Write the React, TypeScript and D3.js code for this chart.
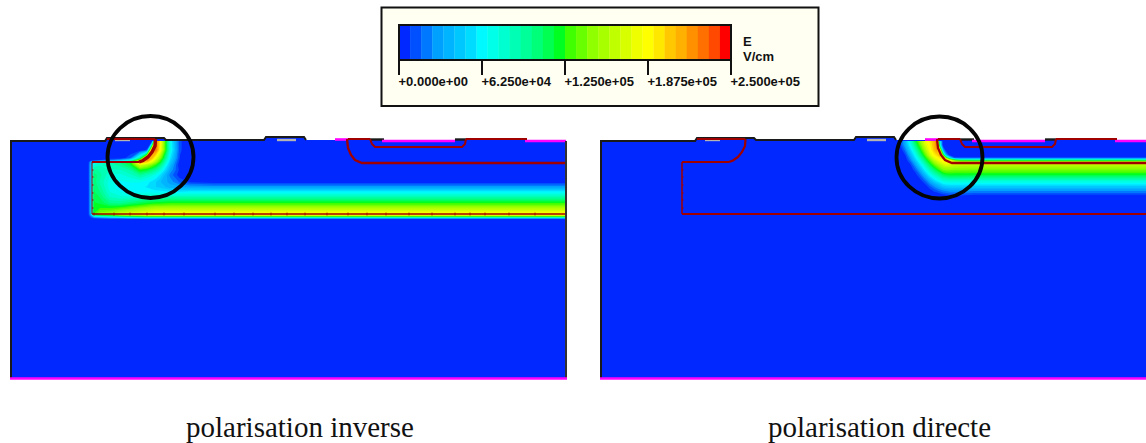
import React from "react";
import * as d3 from "d3";

const WIDTH = 1146;
const HEIGHT = 443;

// Legend: colour map of the field, in 30 steps from 0 to 2.5e5 V/cm
const legendColors = [
  "#0028ff", "#0050ff", "#0078ff", "#00a0ff", "#00b4ff", "#00c8ff", "#00dcff", "#00f8ff", "#00ffe8", "#00ffd0",
  "#00ffb4", "#00ff98", "#00ff78", "#00ff50", "#00ff20", "#40ff00", "#68ff00", "#90ff00", "#a8ff00", "#c0ff00",
  "#d8ff00", "#f0ff00", "#ffff00", "#ffe800", "#ffc800", "#ffb000", "#ff9000", "#ff7000", "#ff4800", "#ff0000",
];
const legendTicks = [0, 62500, 125000, 187500, 250000];
const legendLabels = ["+0.000e+00", "+6.250e+04", "+1.250e+05", "+1.875e+05", "+2.500e+05"];
const legendTitle = ["E", "V/cm"];
const captions = ["polarisation inverse", "polarisation directe"];

// Device outline (device units; the same for both simulations)
const outlineX = [11, 105, 107, 164, 166, 264, 266, 304, 306, 566, 566, 11];
const outlineY = [141, 141, 138, 138, 140, 140, 137, 137, 140, 140, 378, 378];

// Junctions
const wellSideX = [92, 92];
const wellSideY = [214, 162];
const wellTopX = [92, 139];
const wellTopY = [162, 162];
const wellCornerX = [139, 143, 148, 152, 155, 155.5];
const wellCornerY = [162, 160.5, 157, 152, 146, 139];
const wellBottomX = [92, 566];
const wellBottomY = [214, 214];
const pWellX = [347, 348, 351, 355, 362, 566];
const pWellY = [139, 148, 155, 160, 163, 163];
const nPlusX = [370, 372, 375, 462, 465, 466];
const nPlusY = [139, 144, 147, 147, 144, 139];
const meshTicksBottom = [94, 114, 130, 147, 164, 184, 215, 234, 253, 271, 287, 305, 327, 348, 367, 386, 409, 432, 455, 470, 485, 509, 535];
const meshTicksLeft = [170, 177, 185, 193, 200, 208];

// Field maps: percent of the colour-scale range at each sample position
const reverseColumns = [88, 91, 94, 100, 110, 120, 130, 140, 147, 152, 156, 160, 170, 180, 190, 200, 215, 566];
const reverseRows = [141, 150, 158, 160, 162, 165, 170, 175, 182, 187, 192, 197, 203, 208, 213, 215, 217, 219];
const reverseField = [
  [0, 0, 0, 0, 0, 0, 0, 0, 0, 0, 93, 78, 28, 4, 0, 0, 0, 0],
  [0, 0, 0, 0, 0, 0, 0, 0, 4, 88, 92, 76, 30, 4, 0, 0, 0, 0],
  [0, 0, 0, 0, 0, 0, 6, 38, 88, 84, 72, 60, 24, 3, 0, 0, 0, 0],
  [0, 0, 0, 3, 8, 14, 25, 60, 90, 78, 66, 54, 22, 2, 0, 0, 0, 0],
  [0, 15, 22, 30, 35, 40, 48, 88, 82, 70, 60, 50, 20, 1, 0, 0, 0, 0],
  [0, 18, 30, 33, 35, 38, 45, 68, 62, 56, 50, 42, 17, 0, 0, 0, 0, 0],
  [0, 18, 38, 36, 33, 33, 37, 50, 47, 42, 38, 32, 13, 2, 0, 0, 0, 0],
  [0, 18, 42, 38, 30, 29, 32, 38, 34, 31, 27, 23, 9, 1, 0, 0, 0, 0],
  [0, 18, 42, 36, 28, 26, 27, 27, 25, 22, 20, 17, 12, 6, 3, 2, 1, 1],
  [0, 18, 43, 38, 28, 25, 24, 24, 23, 21, 20, 19, 15, 14, 13, 13, 12, 12],
  [0, 18, 44, 40, 30, 27, 25, 26, 26, 26, 25, 25, 24, 24, 25, 25, 25, 25],
  [0, 18, 46, 43, 33, 31, 31, 33, 34, 34, 35, 35, 36, 36, 36, 36, 36, 36],
  [0, 18, 47, 46, 40, 39, 42, 45, 47, 48, 49, 49, 50, 50, 50, 50, 50, 50],
  [0, 18, 48, 50, 50, 52, 55, 58, 60, 61, 62, 62, 62, 62, 62, 62, 62, 62],
  [0, 18, 50, 58, 60, 65, 68, 70, 72, 73, 74, 74, 74, 74, 74, 74, 74, 74],
  [0, 15, 44, 50, 54, 62, 66, 69, 72, 73, 74, 74, 74, 74, 74, 74, 74, 74],
  [0, 6, 15, 20, 25, 30, 35, 38, 40, 40, 40, 40, 40, 40, 40, 40, 40, 40],
  [0, 0, 0, 0, 0, 0, 0, 0, 0, 0, 0, 0, 0, 0, 0, 0, 0, 0],
];

const forwardColumns = [305, 310, 315, 320, 325, 330, 335, 340, 344, 347, 350, 353, 356, 360, 365, 370, 385, 566];
const forwardRows = [141, 145, 150, 155, 158, 160, 162, 165, 170, 175, 180, 185, 190, 195, 198];
const forwardField = [
  [0, 4, 15, 29, 45, 58, 72, 78, 84, 92, 25, 0, 0, 0, 0, 0, 0, 0],
  [0, 3, 13, 26, 40, 54, 68, 76, 84, 90, 30, 0, 0, 0, 0, 0, 0, 0],
  [0, 0, 8, 20, 33, 47, 61, 74, 82, 88, 70, 15, 0, 0, 0, 0, 0, 0],
  [0, 0, 3, 14, 26, 40, 53, 68, 76, 80, 85, 55, 15, 0, 0, 0, 0, 0],
  [0, 0, 1, 10, 22, 34, 47, 60, 70, 74, 78, 80, 60, 25, 5, 5, 5, 5],
  [0, 0, 0, 8, 19, 30, 43, 55, 65, 70, 74, 76, 78, 70, 50, 42, 40, 40],
  [0, 0, 0, 5, 15, 27, 39, 51, 60, 65, 70, 73, 74, 72, 70, 68, 68, 68],
  [0, 0, 0, 2, 11, 22, 33, 45, 53, 58, 62, 66, 69, 68, 66, 65, 64, 64],
  [0, 0, 0, 0, 5, 14, 25, 35, 42, 47, 52, 56, 57, 57, 56, 56, 56, 56],
  [0, 0, 0, 0, 1, 7, 16, 26, 32, 36, 40, 44, 46, 47, 47, 47, 47, 47],
  [0, 0, 0, 0, 0, 2, 8, 16, 22, 26, 29, 32, 33, 34, 34, 34, 33, 33],
  [0, 0, 0, 0, 0, 0, 2, 8, 12, 15, 18, 21, 22, 23, 23, 23, 22, 22],
  [0, 0, 0, 0, 0, 0, 0, 2, 5, 7, 9, 11, 12, 13, 13, 13, 12, 12],
  [0, 0, 0, 0, 0, 0, 0, 0, 0, 0, 1, 2, 3, 4, 4, 4, 3, 3],
  [0, 0, 0, 0, 0, 0, 0, 0, 0, 0, 0, 0, 0, 0, 0, 0, 0, 0],
];

// Contacts on the top surface
const metalStart = [335, 382, 525];
const metalEnd = [348, 455, 566];
const metalLevel = [139.5, 141, 141];
const oxideStart = [370, 455];
const oxideEnd = [384, 466];
const redTopStart = [107, 348, 466];
const redTopEnd = [155, 370, 527];
const redTopLevel = [139, 139, 139];
const grayStart = [115, 277];
const grayEnd = [130, 296];
const grayLevel = [140, 140];

const BLACK = "#1a1a1a";
const RED = "#a00000";
const MAGENTA = "#ff00ff";
const SANS = "'Liberation Sans', Arial, sans-serif";

const valueColor = d3.scaleQuantize<string>().domain([0, 100]).range(legendColors);

function Field({ columns, rows, field, sx }: { columns: number[]; rows: number[]; field: number[][]; sx: (v: number) => number }) {
  const w = columns.length;
  const h = rows.length;
  const gridX = d3.scaleLinear().domain(d3.range(w)).range(columns).clamp(true);
  const gridY = d3.scaleLinear().domain(d3.range(h)).range(rows).clamp(true);
  const flat = field.flat();
  const path = d3.geoPath(
    d3.geoTransform({
      point(x: number, y: number) {
        (this as any).stream.point(sx(gridX(x - 0.5)), gridY(y - 0.5));
      },
    })
  );
  const contour = d3.contours().size([w, h]);
  return (
    <g>
      {legendColors.slice(1).map((_, i) => {
        const t = ((i + 1) * 100) / legendColors.length;
        return <path key={i} d={path(contour.contour(flat, t) as any) || ""} fill={valueColor(t + 0.01)} fillRule="evenodd" />;
      })}
    </g>
  );
}

function Panel({ offset, columns, rows, field, reverse, circleX, circleY }: any) {
  const sx = d3.scaleLinear().domain([11, 566]).range([11 + offset, 566 + offset]);
  const toPath = (xs: number[], ys: number[]) =>
    d3.line<number>().x((v) => sx(v)).y((_, i) => ys[i])(xs) || "";
  return (
    <g>
      <path d={toPath(outlineX, outlineY) + "Z"} fill={legendColors[0]} />
      <Field columns={columns} rows={rows} field={field} sx={sx} />
      {/* surface */}
      <path d={toPath(outlineX.slice(0, 9), outlineY.slice(0, 9))} fill="none" stroke={BLACK} strokeWidth={2} />
      {oxideStart.map((a, i) => (
        <line key={i} x1={sx(a)} x2={sx(oxideEnd[i])} y1={139.5} y2={139.5} stroke={BLACK} strokeWidth={2.4} />
      ))}
      {grayStart.map((a, i) => (
        <line key={i} x1={sx(a)} x2={sx(grayEnd[i])} y1={grayLevel[i]} y2={grayLevel[i]} stroke="#b4b4b4" strokeWidth={2.4} />
      ))}
      {metalStart.map((a, i) => (
        <line key={i} x1={sx(a)} x2={sx(metalEnd[i])} y1={metalLevel[i]} y2={metalLevel[i]} stroke={MAGENTA} strokeWidth={2.6} />
      ))}
      {redTopStart.map((a, i) => (
        <line key={i} x1={sx(a)} x2={sx(redTopEnd[i])} y1={redTopLevel[i]} y2={redTopLevel[i]} stroke={RED} strokeWidth={2} />
      ))}
      {/* junctions */}
      <path d={toPath(wellSideX, wellSideY)} fill="none" stroke={RED} strokeWidth={reverse ? 1 : 1.5} />
      <path d={toPath(wellTopX, wellTopY)} fill="none" stroke={RED} strokeWidth={2} />
      <path d={toPath(wellCornerX, wellCornerY)} fill="none" stroke={RED} strokeWidth={reverse ? 3.4 : 2.2} />
      <path d={toPath(wellBottomX, wellBottomY)} fill="none" stroke={RED} strokeWidth={reverse ? 1.5 : 2} />
      <path d={toPath(pWellX, pWellY)} fill="none" stroke={RED} strokeWidth={2.3} />
      <path d={toPath(nPlusX, nPlusY)} fill="none" stroke={RED} strokeWidth={2} />
      {meshTicksLeft.map((v) => (
        <line key={v} x1={sx(92)} x2={sx(93.5)} y1={v} y2={v} stroke={RED} strokeWidth={1} />
      ))}
      {reverse &&
        meshTicksBottom.map((v) => <line key={v} x1={sx(v)} x2={sx(v)} y1={212.5} y2={215.5} stroke={RED} strokeWidth={0.8} />)}
      {/* borders */}
      <line x1={sx(11)} x2={sx(11)} y1={140} y2={379} stroke={BLACK} strokeWidth={2} />
      <line x1={sx(566)} x2={sx(566)} y1={141} y2={379} stroke="#333" strokeWidth={2} />
      <line x1={sx(11) - 1} x2={sx(566) + 1} y1={378.5} y2={378.5} stroke={MAGENTA} strokeWidth={2.6} />
      <ellipse cx={sx(circleX)} cy={circleY} rx={43} ry={41} fill="none" stroke="#050505" strokeWidth={3.8} />
    </g>
  );
}

function Legend() {
  const x = d3.scaleLinear().domain([0, 250000]).range([399, 731]);
  const cell = (x(250000) - x(0)) / legendColors.length;
  return (
    <g fontFamily={SANS} fontWeight="bold" fontSize={13} fill="#111">
      <rect x={381.5} y={7.5} width={437} height={98.5} fill="#fffff2" stroke="#111" strokeWidth={2} />
      {legendColors.map((c, i) => (
        <rect key={c} x={x(0) + i * cell} y={25} width={cell + 0.3} height={35} fill={c} />
      ))}
      <rect x={399} y={25} width={332} height={35} fill="none" stroke="#111" strokeWidth={2} />
      {legendTicks.map((t, i) => (
        <g key={t}>
          <line x1={x(t)} x2={x(t)} y1={60} y2={75} stroke="#111" strokeWidth={2} />
          <text x={x(t) - 0.5} y={86}>{legendLabels[i]}</text>
        </g>
      ))}
      {legendTitle.map((t, i) => (
        <text key={t} x={743} y={46 + i * 15}>{t}</text>
      ))}
    </g>
  );
}

export default function App() {
  return (
    <svg
      width={WIDTH}
      height={HEIGHT}
      viewBox={`0 0 ${WIDTH} ${HEIGHT}`}
      style={{ position: "absolute", left: 0, top: 0, display: "block", background: "#fff" }}
    >
      <Legend />
      <Panel offset={0} columns={reverseColumns} rows={reverseRows} field={reverseField} reverse circleX={150.5} circleY={157} />
      <Panel offset={590} columns={forwardColumns} rows={forwardRows} field={forwardField} reverse={false} circleX={349.5} circleY={157.5} />
      <g fontFamily="'Liberation Serif', 'Times New Roman', serif" fontSize={29} fill="#111">
        <text x={186} y={437}>{captions[0]}</text>
        <text x={768} y={437}>{captions[1]}</text>
      </g>
    </svg>
  );
}
